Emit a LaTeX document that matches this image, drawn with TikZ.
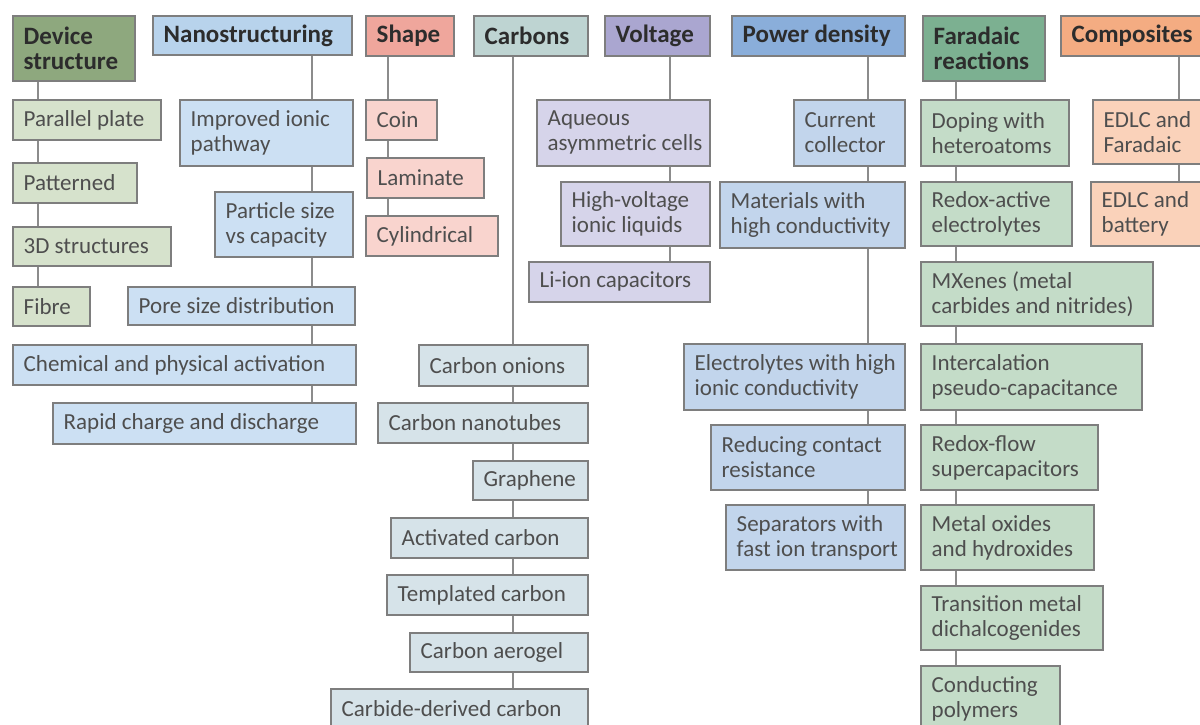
\documentclass[tikz,border=0pt]{standalone}
\usepackage{fontspec}
\setmainfont{Carlito}
\definecolor{lineC}{HTML}{8C8C8C}
\definecolor{bordC}{HTML}{7E7E7E}
\definecolor{hdTxt}{HTML}{2C2C2C}
\definecolor{chTxt}{HTML}{4E4E4E}
\definecolor{devH}{HTML}{8EA87E}
\definecolor{devC}{HTML}{D6E2CC}
\definecolor{nanH}{HTML}{B8D3EC}
\definecolor{nanC}{HTML}{CCE0F3}
\definecolor{shpH}{HTML}{EFA69C}
\definecolor{shpC}{HTML}{F9D4CE}
\definecolor{carH}{HTML}{BED4D2}
\definecolor{carC}{HTML}{D6E3E9}
\definecolor{volH}{HTML}{AAA6D0}
\definecolor{volC}{HTML}{D6D4EA}
\definecolor{powH}{HTML}{8AAEDA}
\definecolor{powC}{HTML}{C2D5EC}
\definecolor{farH}{HTML}{7CB091}
\definecolor{farC}{HTML}{C4DCC8}
\definecolor{comH}{HTML}{F4AC82}
\definecolor{comC}{HTML}{FAD2BA}
\tikzset{
  boxbase/.style={draw=bordC, line width=1.8pt, inner sep=0pt, rectangle, anchor=north west},
  link/.style={draw=lineC, line width=2pt},
  hdtxt/.style={anchor=west, inner sep=0pt, font=\fontsize{25}{25}\selectfont\bfseries, text=hdTxt, align=left},
  chtxt/.style={anchor=west, inner sep=0pt, font=\fontsize{23}{25}\selectfont, text=chTxt, align=left},
}
% name, fill, text style, x1, y1, x2, y2, text
\newcommand\bx[8]{%
  \node[boxbase, fill=#2, minimum width={(#6-#4)*1pt}, minimum height={(#7-#5)*1pt}] (#1) at (#4,#5) {};
  \node[#3] (#1-t) at ([xshift=11.5pt]#1.west) {#8};}
\newcommand\chain[2]{\foreach \a/\b in {#2} {\draw[link] (\a.south -| #1) -- (\b.north -| #1);}}
\begin{document}
\begin{tikzpicture}[x=1pt,y=-1pt]
\useasboundingbox (0,0) rectangle (1200,724);
\fill[white] (0,0) rectangle (1200,724);
\clip (0,0) rectangle (1200,724);
% column x positions
\coordinate (xD) at (38,0);
\coordinate (xN) at (312,0);
\coordinate (xS) at (388,0);
\coordinate (xC) at (513,0);
\coordinate (xV) at (670,0);
\coordinate (xP) at (868,0);
\coordinate (xF) at (956,0);
\coordinate (xK) at (1179,0);
% Device structure
\bx{hD}{devH}{hdtxt}{12}{15}{134}{80}{Device\\structure}
\bx{d1}{devC}{chtxt}{12}{99}{160}{139}{Parallel plate}
\bx{d2}{devC}{chtxt}{12}{162}{136}{202}{Patterned}
\bx{d3}{devC}{chtxt}{12}{226}{170}{265}{3D structures}
\bx{d4}{devC}{chtxt}{12}{286}{89}{325}{Fibre}
% Nanostructuring
\bx{hN}{nanH}{hdtxt}{152}{15}{351}{54}{Nanostructuring}
\bx{n1}{nanC}{chtxt}{179}{99}{352}{165}{Improved ionic\\pathway}
\bx{n2}{nanC}{chtxt}{214}{191}{352}{256}{Particle size\\vs capacity}
\bx{n3}{nanC}{chtxt}{127}{286}{354}{324}{Pore size distribution}
\bx{n4}{nanC}{chtxt}{12}{344}{355}{384}{Chemical and physical activation}
\bx{n5}{nanC}{chtxt}{52}{402}{355}{443}{Rapid charge and discharge}
% Shape
\bx{hS}{shpH}{hdtxt}{365}{15}{453}{55}{Shape}
\bx{s1}{shpC}{chtxt}{365}{99}{436}{139}{Coin}
\bx{s2}{shpC}{chtxt}{366}{157}{483}{197}{Laminate}
\bx{s3}{shpC}{chtxt}{365}{215}{497}{255}{Cylindrical}
% Carbons
\bx{hC}{carH}{hdtxt}{473}{15}{587}{55}{Carbons}
\bx{c1}{carC}{chtxt}{418}{344}{587}{385}{Carbon onions}
\bx{c2}{carC}{chtxt}{377}{402}{587}{442}{Carbon nanotubes}
\bx{c3}{carC}{chtxt}{472}{460}{587}{499}{Graphene}
\bx{c4}{carC}{chtxt}{390}{517}{587}{557}{Activated carbon}
\bx{c5}{carC}{chtxt}{386}{574}{587}{614}{Templated carbon}
\bx{c6}{carC}{chtxt}{409}{632}{587}{671}{Carbon aerogel}
\bx{c7}{carC}{chtxt}{330}{688}{587}{728}{Carbide-derived carbon}
% Voltage
\bx{hV}{volH}{hdtxt}{604}{15}{709}{55}{Voltage}
\bx{v1}{volC}{chtxt}{536}{99}{709}{165}{Aqueous\\asymmetric cells}
\bx{v2}{volC}{chtxt}{560}{181}{709}{245}{High-voltage\\ionic liquids}
\bx{v3}{volC}{chtxt}{528}{261}{709}{301}{Li-ion capacitors}
% Power density
\bx{hP}{powH}{hdtxt}{731}{15}{904}{55}{Power density}
\bx{p1}{powC}{chtxt}{793}{99}{904}{165}{Current\\collector}
\bx{p2}{powC}{chtxt}{719}{181}{904}{247}{Materials with\\high conductivity}
\bx{p3}{powC}{chtxt}{683}{343}{904}{409}{Electrolytes with high\\ionic conductivity}
\bx{p4}{powC}{chtxt}{710}{424}{904}{489}{Reducing contact\\resistance}
\bx{p5}{powC}{chtxt}{725}{504}{904}{569}{Separators with\\fast ion transport}
% Faradaic reactions
\bx{hF}{farH}{hdtxt}{922}{15}{1044}{80}{Faradaic\\reactions}
\bx{f1}{farC}{chtxt}{920}{99}{1068}{165}{Doping with\\heteroatoms}
\bx{f2}{farC}{chtxt}{920}{181}{1071}{245}{Redox-active\\electrolytes}
\bx{f3}{farC}{chtxt}{920}{261}{1152}{325}{MXenes (metal\\carbides and nitrides)}
\bx{f4}{farC}{chtxt}{920}{343}{1141}{409}{Intercalation\\pseudo-capacitance}
\bx{f5}{farC}{chtxt}{920}{424}{1097}{489}{Redox-flow\\supercapacitors}
\bx{f6}{farC}{chtxt}{920}{504}{1093}{569}{Metal oxides\\and hydroxides}
\bx{f7}{farC}{chtxt}{920}{585}{1102}{649}{Transition metal\\dichalcogenides}
\bx{f8}{farC}{chtxt}{920}{665}{1059}{730}{Conducting\\polymers}
% Composites
\bx{hK}{comH}{hdtxt}{1060}{15}{1215}{55}{Composites}
\bx{k1}{comC}{chtxt}{1092}{99}{1215}{163}{EDLC and\\Faradaic}
\bx{k2}{comC}{chtxt}{1090}{181}{1215}{245}{EDLC and\\battery}
% connectors
\chain{xD}{hD/d1,d1/d2,d2/d3,d3/d4}
\chain{xN}{hN/n1,n1/n2,n2/n3,n3/n4,n4/n5}
\chain{xS}{hS/s1,s1/s2,s2/s3}
\chain{xC}{hC/c1,c1/c2,c2/c3,c3/c4,c4/c5,c5/c6,c6/c7}
\chain{xV}{hV/v1,v1/v2,v2/v3}
\chain{xP}{hP/p1,p1/p2,p2/p3,p3/p4,p4/p5}
\chain{xF}{hF/f1,f1/f2,f2/f3,f3/f4,f4/f5,f5/f6,f6/f7,f7/f8}
\chain{xK}{hK/k1,k1/k2}
\end{tikzpicture}
\end{document}
